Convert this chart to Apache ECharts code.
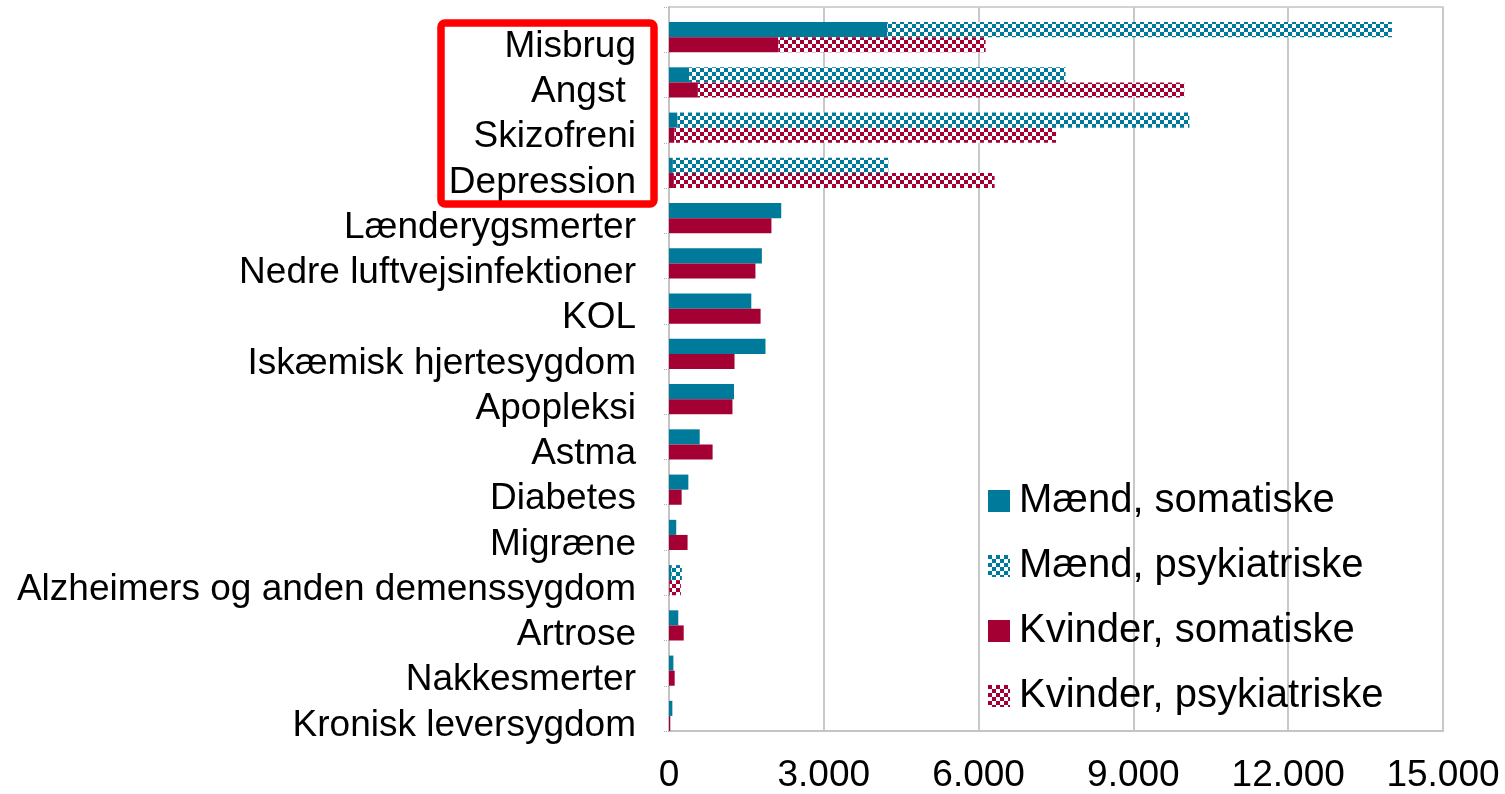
<!DOCTYPE html>
<html>
<head>
<meta charset="utf-8">
<script src="https://cdn.jsdelivr.net/npm/echarts@6/dist/echarts.min.js"></script>
<style>
  html, body { margin: 0; padding: 0; background: #fff; }
  #chart { width: 1505px; height: 794px; }
</style>
</head>
<body>
<div id="chart"></div>
<script>
var categories = ['Misbrug', 'Angst ', 'Skizofreni', 'Depression', 'Lænderygsmerter',
    'Nedre luftvejsinfektioner', 'KOL', 'Iskæmisk hjertesygdom', 'Apopleksi', 'Astma',
    'Diabetes', 'Migræne', 'Alzheimers og anden demenssygdom', 'Artrose', 'Nakkesmerter',
    'Kronisk leversygdom'];
var maendSomatiske = [4230, 390, 165, 75, 2175, 1800, 1595, 1870, 1260, 595, 375, 140, 45, 180, 85, 65];
var maendPsykiatriske = [9780, 7295, 9920, 4175, 0, 0, 0, 0, 0, 0, 0, 0, 205, 0, 0, 0];
var kvinderSomatiske = [2120, 560, 105, 95, 1985, 1675, 1775, 1270, 1230, 845, 245, 360, 15, 285, 110, 25];
var kvinderPsykiatriske = [4015, 9425, 7395, 6215, 0, 0, 0, 0, 0, 0, 0, 0, 215, 0, 0, 0];
var xTicks = [0, 3000, 6000, 9000, 12000, 15000];

var teal = '#007A9B';
var crimson = '#A50034';

// ternet mønster til de psykiatriske serier
function checker(color) {
    var c = document.createElement('canvas');
    c.width = 8;
    c.height = 8;
    var ctx = c.getContext('2d');
    ctx.fillStyle = '#ffffff';
    ctx.fillRect(0, 0, 8, 8);
    ctx.fillStyle = color;
    ctx.fillRect(0, 0, 4, 4);
    ctx.fillRect(4, 4, 4, 4);
    return { image: c, repeat: 'repeat' };
}

var font = 'Liberation Sans, Arial, sans-serif';
var myChart = echarts.init(document.getElementById('chart'));

var option = {
    animation: false,
    grid: {
        left: 669,
        right: 62,
        top: 7,
        bottom: 60,
        show: true,
        borderColor: '#c4c4c4',
        borderWidth: 1.5
    },
    legend: {
        orient: 'vertical',
        left: 983,
        top: 476,
        itemWidth: 22,
        itemHeight: 22,
        itemGap: 25,
        icon: 'rect',
        data: ['Mænd, somatiske', 'Mænd, psykiatriske', 'Kvinder, somatiske', 'Kvinder, psykiatriske'],
        textStyle: {
            fontFamily: font,
            fontSize: 40,
            color: '#000',
            padding: [0, 0, 0, 4]
        }
    },
    xAxis: {
        type: 'value',
        min: xTicks[0],
        max: xTicks[xTicks.length - 1],
        interval: 3000,
        axisLine: { show: true, lineStyle: { color: '#c4c4c4', width: 2 } },
        axisTick: { show: false },
        splitLine: { show: true, lineStyle: { color: '#c8c8c8', width: 2 } },
        axisLabel: {
            fontFamily: font,
            fontSize: 37,
            color: '#000',
            margin: 26,
            formatter: function (v) {
                return String(v).replace(/\B(?=(\d{3})+(?!\d))/g, '.');
            }
        }
    },
    yAxis: {
        type: 'category',
        data: categories,
        inverse: true,
        axisLine: { show: true, lineStyle: { color: '#c4c4c4', width: 2 } },
        axisTick: { show: true, length: 6, lineStyle: { color: '#b0b0b0', type: 'dotted' } },
        axisLabel: {
            interval: 0,
            fontFamily: font,
            fontSize: 37,
            color: '#000',
            margin: 33,
            verticalAlign: 'top',
            lineHeight: 34
        }
    },
    series: [
        {
            // tom plads øverst i hver kategori, som i originalen
            name: 'tom',
            type: 'bar',
            stack: 'p',
            data: categories.map(function () { return 0; }),
            barGap: '0%',
            barCategoryGap: '0%',
            silent: true
        },
        {
            name: 'Mænd, somatiske',
            type: 'bar',
            stack: 'm',
            data: maendSomatiske,
            itemStyle: { color: teal }
        },
        {
            name: 'Mænd, psykiatriske',
            type: 'bar',
            stack: 'm',
            data: maendPsykiatriske,
            itemStyle: { color: checker(teal) }
        },
        {
            name: 'Kvinder, somatiske',
            type: 'bar',
            stack: 'w',
            data: kvinderSomatiske,
            itemStyle: { color: crimson }
        },
        {
            name: 'Kvinder, psykiatriske',
            type: 'bar',
            stack: 'w',
            data: kvinderPsykiatriske,
            itemStyle: { color: checker(crimson) }
        }
    ],
    graphic: [{
        type: 'rect',
        shape: { x: 441, y: 23, width: 213, height: 181, r: 4 },
        style: { fill: 'none', stroke: '#ff0000', lineWidth: 7.5 },
        z: 100
    }]
};
myChart.setOption(option);
window.addEventListener('resize', function () {
    myChart.resize();
});
</script>
</body>
</html>
